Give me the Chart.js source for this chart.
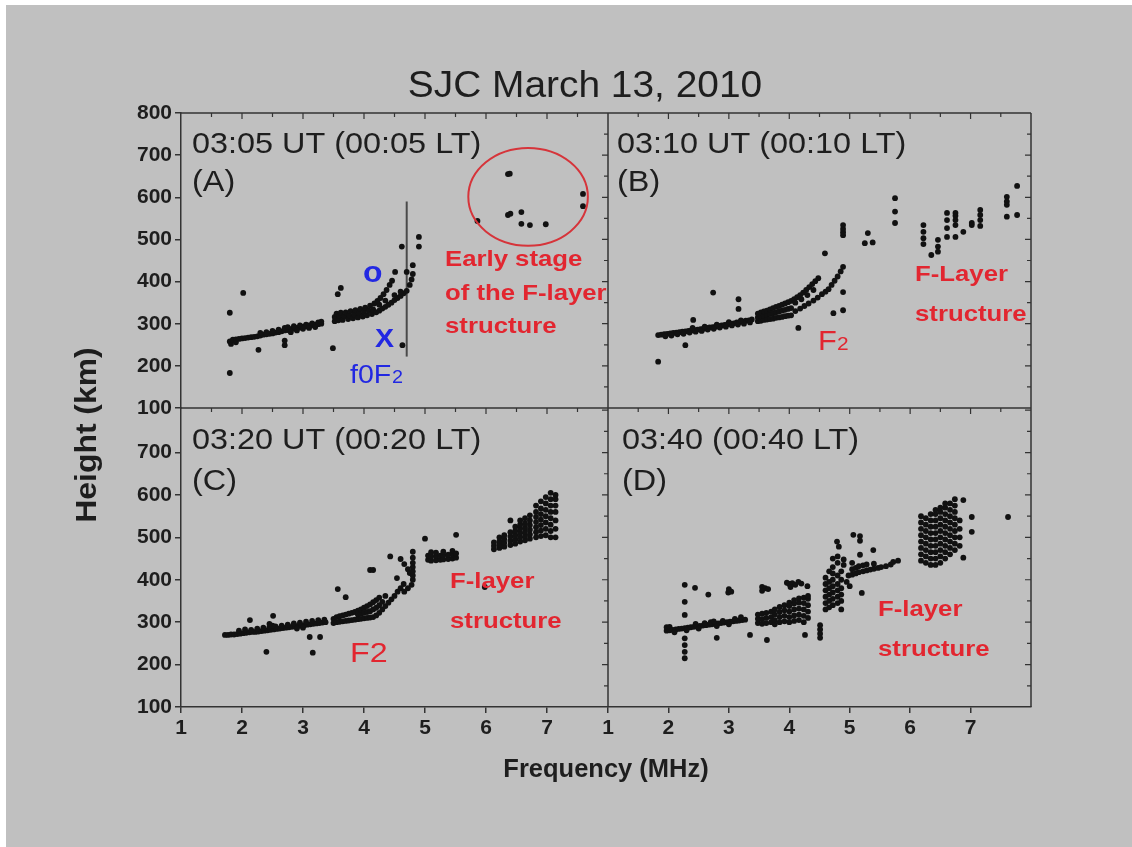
<!DOCTYPE html>
<html>
<head>
<meta charset="utf-8">
<title>SJC March 13, 2010</title>
<script src="https://cdn.jsdelivr.net/npm/chart.js@4.4.1/dist/chart.umd.min.js"></script>
<style>
  html, body { margin: 0; padding: 0; background: #c0c0c0; }
  canvas { display: block; }
</style>
</head>
<body>
<canvas id="ionogram" width="1132" height="847"></canvas>
<script>
// ---- data: virtual height (km) vs frequency (MHz) ----
const freqTicks = [1, 2, 3, 4, 5, 6, 7];
const heightTicksTop = [100, 200, 300, 400, 500, 600, 700, 800];
const heightTicksBottom = [100, 200, 300, 400, 500, 600, 700];

// (A) 03:05 UT
const echoesA = [
  [1.80,258],[1.82,252],[1.85,262],[1.90,263],[1.90,256],[1.95,264],[2.00,265],[2.05,266],[2.10,267],[2.15,268],
  [2.20,269],[2.25,270],[2.30,272],[2.35,274],[2.40,275],[2.45,276],[2.50,277],[2.55,279],[2.60,280],[2.65,282],
  [2.70,284],[2.75,285],[2.80,287],[2.85,288],[2.90,290],[2.95,291],[3.00,293],[3.05,294],[3.10,296],[3.15,297],
  [3.20,298],[3.25,299],[3.30,300],
  [2.30,278],[2.40,280],[2.50,283],[2.60,286],[2.70,290],[2.75,292],[2.85,294],[2.95,296],[3.05,298],[3.15,301],
  [3.25,303],[3.30,305],[2.80,280],[2.90,284],[3.00,288],[3.10,290],[3.20,292],
  [1.80,326],[1.80,183],[2.02,373],[2.27,238],[2.70,249],[2.70,260],[3.49,242],[3.57,370],[3.62,385],
  [3.52,306],[3.52,316],[3.55,324],[3.58,308],[3.60,318],[3.62,326],[3.65,309],[3.68,318],[3.70,327],[3.74,311],
  [3.76,320],[3.78,330],[3.82,313],[3.84,322],[3.86,332],[3.90,315],[3.92,325],[3.94,335],[3.98,317],[4.00,328],
  [4.02,338],[4.05,320],[4.08,331],[4.10,343],[4.13,323],[4.15,334],[4.17,348],
  [4.20,327],[4.25,331],[4.30,336],[4.35,340],[4.40,345],[4.45,350],[4.50,356],[4.55,361],[4.60,366],[4.65,372],
  [4.70,378],[4.25,345],[4.35,355],[4.50,368],[4.60,376],
  [4.22,354],[4.27,361],[4.32,370],[4.37,380],[4.42,392],[4.46,402],[4.51,423],
  [4.62,483],[4.70,423],[4.63,249],[4.75,392],[4.78,405],[4.80,418],[4.80,439],[4.90,506],[4.90,483],
  [5.86,544],[6.36,655],[6.39,656],[6.36,558],[6.40,561],[6.58,565],[6.58,537],[6.72,534],[6.98,536],
  [7.59,608],[7.59,579]
];

// (B) 03:10 UT
const echoesB = [
  [1.83,273],[1.88,274],[1.93,275],[1.98,276],[2.03,277],[2.08,278],[2.13,279],[2.18,280],[2.23,281],[2.28,282],
  [2.33,283],[2.38,284],[2.43,285],[2.48,286],[2.53,287],[2.58,288],[2.63,290],[2.68,291],[2.73,292],[2.78,293],
  [2.83,295],[2.88,296],[2.93,297],[2.98,299],[3.03,300],[3.08,301],[3.13,303],[3.18,304],[3.23,305],[3.28,307],
  [3.33,308],[3.38,310],
  [1.95,270],[2.05,272],[2.15,275],[2.25,276],[2.35,279],[2.45,281],[2.55,283],[2.65,286],[2.75,288],[2.85,291],
  [2.95,293],[3.05,296],[3.15,298],[3.25,300],[3.35,303],[2.40,290],[2.60,293],[2.80,298],[3.00,304],[3.20,308],
  [3.48,306],[3.48,315],[3.48,324],[3.53,307],[3.53,317],[3.53,327],[3.58,309],[3.58,319],[3.58,329],[3.63,310],
  [3.63,321],[3.63,331],[3.68,311],[3.68,323],[3.68,334],[3.73,312],[3.73,325],[3.73,337],[3.78,314],[3.78,327],
  [3.78,340],[3.83,315],[3.83,329],[3.83,342],[3.88,316],[3.88,331],[3.88,345],[3.93,318],[3.93,333],[3.93,348],
  [3.98,319],[3.98,335],[3.98,351],[4.03,320],[4.03,337],[4.03,354],
  [4.08,358],[4.13,363],[4.18,368],[4.23,374],[4.28,380],[4.33,387],[4.38,394],[4.43,401],[4.48,408],
  [4.10,350],[4.20,358],[4.30,368],[4.40,380],
  [4.10,330],[4.18,336],[4.25,342],[4.32,348],[4.40,355],[4.47,362],[4.54,370],[4.60,376],[4.65,382],[4.70,392],
  [4.75,402],[4.80,412],[4.85,424],[4.89,435],
  [1.83,210],[2.28,249],[2.41,309],[2.74,374],[3.16,358],[3.16,335],[4.15,290],[4.59,467],[4.73,325],[4.89,332],
  [4.89,375],[4.89,510],[4.89,517],[4.89,525],[4.89,534],
  [5.30,515],[5.25,491],[5.38,493],[5.75,598],[5.75,566],[5.75,539],
  [6.22,534],[6.22,518],[6.22,503],[6.22,489],[6.35,463],[6.46,499],[6.46,483],[6.46,471],
  [6.61,563],[6.61,546],[6.61,527],[6.61,506],[6.75,563],[6.75,556],[6.75,546],[6.75,534],[6.75,506],
  [6.88,518],[7.02,539],[7.02,534],[7.16,570],[7.16,558],[7.16,546],[7.16,532],
  [7.60,601],[7.60,590],[7.60,582],[7.60,554],[7.77,627],[7.77,558]
];

// (C) 03:20 UT
const echoesC = [
  [1.72,270],[1.77,270],[1.82,271],[1.87,271],[1.92,272],[1.97,273],[2.02,274],[2.07,275],[2.12,276],[2.17,277],
  [2.22,277],[2.27,278],[2.32,279],[2.37,280],[2.42,281],[2.47,282],[2.52,283],[2.57,284],[2.62,285],[2.67,286],
  [2.72,287],[2.77,288],[2.82,289],[2.87,290],[2.92,291],[2.97,292],[3.02,293],[3.07,294],[3.12,295],[3.17,296],
  [3.22,297],[3.27,298],[3.32,299],[3.37,300],
  [1.95,280],[2.05,283],[2.15,282],[2.25,285],[2.35,287],[2.45,289],[2.55,290],[2.65,292],[2.75,294],[2.85,297],
  [2.95,299],[3.05,301],[3.15,303],[3.25,305],[3.35,306],[2.50,292],[2.45,296],[2.90,285],[3.00,287],
  [2.13,305],[2.51,315],[2.40,230],[3.11,265],[3.16,228],[3.28,265],[3.57,378],[3.70,359],
  [3.50,298],[3.50,308],[3.55,300],[3.55,312],[3.60,301],[3.60,314],[3.65,302],[3.65,316],[3.70,303],[3.70,318],
  [3.75,304],[3.75,320],[3.80,305],[3.80,322],[3.85,306],[3.85,324],[3.90,307],[3.90,318],[3.90,327],[3.95,308],
  [3.95,320],[3.95,330],[4.00,309],[4.00,322],[4.00,334],[4.05,310],[4.05,324],[4.05,338],[4.10,311],[4.10,326],
  [4.10,342],[4.15,312],[4.15,330],[4.15,347],[4.20,316],[4.20,334],[4.20,352],[4.25,322],[4.25,340],[4.25,358],
  [4.30,330],[4.30,348],[4.35,338],[4.35,362],[4.40,346],[4.45,354],[4.50,362],[4.55,372],[4.60,380],[4.65,390],
  [4.10,423],[4.15,423],[4.43,455],[4.60,449],[4.66,437],[4.72,425],[4.54,404],[4.66,372],[4.75,416],
  [4.80,400],[4.80,410],[4.80,420],[4.80,430],[4.80,440],[4.80,452],[4.80,466],[4.78,388],[4.72,380],
  [5.00,497],
  [5.05,447],[5.05,457],[5.10,445],[5.10,455],[5.10,465],[5.18,446],[5.18,456],[5.18,464],[5.25,447],[5.25,457],
  [5.30,448],[5.30,458],[5.30,466],[5.38,449],[5.38,459],[5.45,450],[5.45,460],[5.45,468],[5.51,452],[5.51,462],
  [5.51,506],[5.98,383],
  [6.13,472],[6.13,480],[6.13,488],
  [6.22,475],[6.22,483],[6.22,491],[6.22,500],
  [6.30,478],[6.30,487],[6.30,496],[6.30,505],
  [6.40,482],[6.40,492],[6.40,502],[6.40,512],[6.40,540],
  [6.48,485],[6.48,495],[6.48,505],[6.48,515],[6.48,525],
  [6.56,490],[6.56,500],[6.56,510],[6.56,520],[6.56,530],[6.56,540],
  [6.64,493],[6.64,503],[6.64,513],[6.64,523],[6.64,533],[6.64,545],
  [6.72,497],[6.72,507],[6.72,518],[6.72,529],[6.72,540],[6.72,552],
  [6.82,500],[6.82,512],[6.82,524],[6.82,536],[6.82,548],[6.82,560],[6.82,575],
  [6.90,503],[6.90,516],[6.90,529],[6.90,542],[6.90,555],[6.90,568],[6.90,585],
  [6.98,505],[6.98,520],[6.98,535],[6.98,550],[6.98,565],[6.98,580],[6.98,595],
  [7.06,500],[7.06,515],[7.06,530],[7.06,545],[7.06,560],[7.06,575],[7.06,590],[7.06,605],
  [7.14,500],[7.14,520],[7.14,540],[7.14,560],[7.14,575],[7.14,590],[7.14,600]
];

// (D) 03:40 UT
const echoesD = [
  [1.97,280],[1.97,288],[2.02,281],[2.02,289],[2.07,282],[2.12,283],[2.17,284],[2.22,285],[2.27,286],[2.32,287],
  [2.37,288],[2.42,289],[2.47,290],[2.52,291],[2.57,292],[2.62,293],[2.67,294],[2.72,295],[2.77,296],[2.82,297],
  [2.87,298],[2.92,299],[2.97,300],[3.02,301],[3.07,302],[3.12,303],[3.17,304],[3.22,305],[3.27,306],
  [2.10,276],[2.30,281],[2.50,285],[2.60,298],[2.70,300],[2.80,291],[2.90,303],[3.00,295],[3.10,308],[3.20,312],
  [2.45,296],[2.75,302],
  [2.27,388],[2.27,348],[2.27,317],[2.27,262],[2.27,246],[2.27,230],[2.27,215],
  [2.44,381],[2.66,365],[2.99,370],[3.00,378],[3.04,372],[3.55,383],[3.60,380],[3.65,378],[3.55,374],
  [3.96,393],[4.00,390],[4.05,392],[4.10,388],[4.15,395],[4.20,391],[4.30,385],[4.02,383],
  [2.80,263],[3.35,270],[3.63,258],[4.26,270],[4.51,293],[4.51,283],[4.51,273],[4.51,263],
  [3.48,298],[3.48,308],[3.48,318],[3.55,296],[3.55,307],[3.55,320],[3.62,298],[3.62,310],[3.62,322],[3.70,300],
  [3.70,312],[3.70,325],[3.76,295],[3.76,305],[3.76,318],[3.76,330],[3.84,300],[3.84,312],[3.84,324],[3.84,336],
  [3.92,302],[3.92,315],[3.92,328],[3.92,340],[4.00,300],[4.00,312],[4.00,325],[4.00,338],[4.00,346],[4.08,303],
  [4.08,316],[4.08,330],[4.08,344],[4.08,352],[4.16,305],[4.16,318],[4.16,332],[4.16,346],[4.16,356],[4.24,300],
  [4.24,315],[4.24,330],[4.24,345],[4.24,358],[4.31,310],[4.31,325],[4.31,340],[4.31,355],[4.31,362],
  [4.60,330],[4.60,345],[4.60,360],[4.60,375],[4.60,390],[4.60,405],
  [4.66,335],[4.66,350],[4.66,365],[4.66,380],[4.66,395],[4.66,420],
  [4.72,340],[4.72,355],[4.72,370],[4.72,385],[4.72,400],[4.72,415],[4.72,430],[4.72,450],
  [4.80,345],[4.80,360],[4.80,375],[4.80,390],[4.80,410],[4.80,440],[4.80,455],
  [4.86,330],[4.86,350],[4.86,365],[4.86,380],[4.86,400],[4.86,420],[4.90,435],[4.90,448],
  [4.79,490],[4.82,478],[4.95,395],[5.00,385],[4.98,410],
  [5.04,412],[5.04,425],[5.04,440],[5.06,506],[5.10,415],[5.10,428],[5.17,503],[5.17,492],[5.17,459],[5.15,418],
  [5.15,432],[5.20,369],[5.22,420],[5.22,434],[5.28,422],[5.28,436],[5.34,424],[5.39,470],[5.40,426],[5.40,438],
  [5.47,428],[5.52,430],[5.60,432],[5.68,436],[5.72,442],[5.80,445],
  [6.18,445],[6.18,460],[6.18,475],[6.18,490],[6.18,505],[6.18,520],[6.18,535],[6.18,550],
  [6.26,440],[6.26,455],[6.26,470],[6.26,485],[6.26,500],[6.26,515],[6.26,530],[6.26,545],
  [6.34,435],[6.34,450],[6.34,465],[6.34,480],[6.34,495],[6.34,510],[6.34,525],[6.34,540],[6.34,555],
  [6.42,435],[6.42,450],[6.42,465],[6.42,480],[6.42,495],[6.42,510],[6.42,525],[6.42,540],[6.42,555],[6.42,565],
  [6.50,440],[6.50,455],[6.50,470],[6.50,485],[6.50,500],[6.50,515],[6.50,530],[6.50,545],[6.50,560],[6.50,570],
  [6.58,450],[6.58,465],[6.58,480],[6.58,495],[6.58,510],[6.58,525],[6.58,540],[6.58,555],[6.58,570],[6.58,580],
  [6.66,460],[6.66,475],[6.66,490],[6.66,505],[6.66,520],[6.66,535],[6.66,550],[6.66,565],[6.66,580],
  [6.74,470],[6.74,485],[6.74,500],[6.74,515],[6.74,530],[6.74,545],[6.74,560],[6.74,575],[6.74,590],
  [6.82,480],[6.82,500],[6.82,520],[6.82,540],
  [6.88,452],[6.88,588],[7.02,548],[7.02,513],[7.62,548]
];

// foF2 marker in panel A
const foF2Freq = [4.7, 4.7];
const foF2Span = [222, 590];

// ---- styling ----
const FONT = '"Liberation Sans", Arial, Helvetica, sans-serif';
const INK = '#1e1e1e';
const RED = 'rgb(226,38,48)';
const BLUE = 'rgb(34,40,226)';

const toXY = pts => pts.map(([x, y]) => ({ x, y }));

function echoSet(pts, xID, yID) {
  return {
    data: toXY(pts),
    xAxisID: xID,
    yAxisID: yID,
    pointRadius: 2.9,
    pointBorderWidth: 0,
    pointBackgroundColor: '#111',
    showLine: false
  };
}

function freqAxis(weight, stackWeight) {
  return {
    type: 'linear', position: 'bottom', stack: 'freq', stackWeight, weight,
    min: 1, max: 8,
    afterBuildTicks: s => { s.ticks = freqTicks.map(v => ({ value: v })); },
    afterFit: s => { s.height = 40; },
    ticks: { autoSkip: false, maxRotation: 0, padding: 3, color: INK,
             font: { family: FONT, size: 21, weight: 'bold' } },
    grid: { drawOnChartArea: false, drawTicks: true, tickLength: 6, color: '#333', lineWidth: 1.5 },
    border: { color: '#333', width: 1.5 }
  };
}

function heightAxis(weight, stackWeight, max, tickVals) {
  return {
    type: 'linear', position: 'left', stack: 'height', stackWeight, weight,
    min: 100, max,
    afterBuildTicks: s => { s.ticks = tickVals.map(v => ({ value: v })); },
    afterFit: s => { s.width = 60; },
    ticks: { autoSkip: false, padding: 3, color: INK,
             font: { family: FONT, size: 21, weight: 'bold' } },
    grid: { drawOnChartArea: false, drawTicks: true, tickLength: 6, color: '#333', lineWidth: 1.5 },
    border: { color: '#333', width: 1.5 }
  };
}

function txt(ctx, str, x, y, font, color, sx, align) {
  ctx.save();
  ctx.font = font;
  ctx.fillStyle = color;
  ctx.textBaseline = 'alphabetic';
  ctx.textAlign = align || 'left';
  ctx.translate(x, y);
  ctx.scale(sx || 1, 1);
  ctx.fillText(str, 0, 0);
  ctx.restore();
}

// frame, inner ticks, panel captions and annotations
const panelDecor = {
  id: 'panelDecor',
  beforeDraw(chart) {
    const ctx = chart.ctx;
    ctx.save();
    ctx.fillStyle = '#c0c0c0';
    ctx.fillRect(0, 0, chart.width, chart.height);
    ctx.fillStyle = '#ffffff';
    ctx.fillRect(0, 0, chart.width, 5);
    ctx.fillRect(0, 0, 6, chart.height);
    ctx.restore();
  },
  afterDatasetsDraw(chart) {
    const ctx = chart.ctx;
    const s = chart.scales;
    const panels = [[s.xL, s.yT], [s.xR, s.yT], [s.xL, s.yB], [s.xR, s.yB]];

    ctx.save();
    ctx.strokeStyle = '#333';
    ctx.lineWidth = 1.5;
    // frame lines not drawn by the axes themselves
    ctx.beginPath();
    ctx.moveTo(s.xL.left, s.yT.top); ctx.lineTo(s.xR.right, s.yT.top);
    ctx.moveTo(s.xR.right, s.yT.top); ctx.lineTo(s.xR.right, s.yB.bottom);
    ctx.moveTo(s.xL.left, s.yT.bottom); ctx.lineTo(s.xR.right, s.yT.bottom);
    ctx.moveTo(s.xL.right, s.yT.top); ctx.lineTo(s.xL.right, s.yB.bottom);
    ctx.stroke();

    // inward ticks on top and right edges of each panel
    ctx.lineWidth = 1.2;
    ctx.beginPath();
    panels.forEach(([xs, ys]) => {
      for (let f = 1.5; f < 8; f += 0.5) {
        const px = xs.getPixelForValue(f);
        const len = Number.isInteger(f) ? 6 : 4;
        ctx.moveTo(px, ys.top); ctx.lineTo(px, ys.top + len);
      }
      for (let h = 150; h < ys.max; h += 50) {
        const py = ys.getPixelForValue(h);
        const len = h % 100 === 0 ? 6 : 4;
        ctx.moveTo(xs.right, py); ctx.lineTo(xs.right - len, py);
      }
    });
    ctx.stroke();
    ctx.restore();

    // captions
    const cap = '30px ' + FONT;
    const tags = [
      ['03:05 UT (00:05 LT)', '(A)', 11, 40, 78],
      ['03:10 UT (00:10 LT)', '(B)', 9, 40, 78],
      ['03:20 UT (00:20 LT)', '(C)', 11, 41, 82],
      ['03:40 (00:40 LT)', '(D)', 14, 41, 82]
    ];
    tags.forEach(([time, tag, dx, dy1, dy2], i) => {
      const [xs, ys] = panels[i];
      txt(ctx, time, xs.left + dx, ys.top + dy1, cap, INK, 1.08);
      txt(ctx, tag, xs.left + dx, ys.top + dy2, cap, INK, 1.08);
    });

    const redBold = 'bold 22px ' + FONT;
    const A = panels[0], B = panels[1], C = panels[2], D = panels[3];
    // panel A
    txt(ctx, 'Early stage', A[0].left + 264, A[1].top + 153, redBold, RED, 1.17);
    txt(ctx, 'of the F-layer', A[0].left + 264, A[1].top + 187, redBold, RED, 1.17);
    txt(ctx, 'structure', A[0].left + 264, A[1].top + 220, redBold, RED, 1.17);
    txt(ctx, 'o', A[0].left + 182, A[1].top + 169, 'bold 29px ' + FONT, BLUE, 1.1);
    txt(ctx, 'X', A[0].left + 194, A[1].top + 234, 'bold 26px ' + FONT, BLUE, 1.1);
    txt(ctx, 'f0F', A[0].left + 169, A[1].top + 270, '26px ' + FONT, BLUE, 1.1);
    txt(ctx, '2', A[0].left + 211, A[1].top + 270, '18px ' + FONT, BLUE, 1.1);
    // circled early F-layer echoes
    const cx = A[0].getPixelForValue(6.69), cy = A[1].getPixelForValue(601);
    const rx = A[0].getPixelForValue(6.69 + 0.98) - cx;
    const ry = cy - A[1].getPixelForValue(601 + 116);
    ctx.save();
    ctx.strokeStyle = 'rgb(214,52,58)';
    ctx.lineWidth = 2;
    ctx.beginPath();
    ctx.ellipse(cx, cy, rx, ry, 0, 0, Math.PI * 2);
    ctx.stroke();
    ctx.restore();
    // panel B
    txt(ctx, 'F', B[0].left + 210, B[1].top + 237, '28px ' + FONT, RED, 1.1);
    txt(ctx, '2', B[0].left + 229, B[1].top + 237, '19px ' + FONT, RED, 1.1);
    txt(ctx, 'F-Layer', B[0].left + 307, B[1].top + 168, redBold, RED, 1.17);
    txt(ctx, 'structure', B[0].left + 307, B[1].top + 208, redBold, RED, 1.17);
    // panel C
    txt(ctx, 'F2', C[0].left + 169, C[1].top + 254, '28px ' + FONT, RED, 1.15);
    txt(ctx, 'F-layer', C[0].left + 269, C[1].top + 180, redBold, RED, 1.17);
    txt(ctx, 'structure', C[0].left + 269, C[1].top + 220, redBold, RED, 1.17);
    // panel D
    txt(ctx, 'F-layer', D[0].left + 270, D[1].top + 208, redBold, RED, 1.17);
    txt(ctx, 'structure', D[0].left + 270, D[1].top + 248, redBold, RED, 1.17);

    // figure title and axis titles
    txt(ctx, 'SJC March 13, 2010', 585, 97, '36px ' + FONT, INK, 1.08, 'center');
    txt(ctx, 'Frequency (MHz)', (s.xL.left + s.xR.right) / 2, 777, 'bold 26px ' + FONT, INK, 0.98, 'center');
    ctx.save();
    ctx.translate(96, 435);
    ctx.rotate(-Math.PI / 2);
    txt(ctx, 'Height (km)', 0, 0, 'bold 29px ' + FONT, INK, 1.1, 'center');
    ctx.restore();
  }
};

const chart = new Chart(document.getElementById('ionogram'), {
  type: 'scatter',
  data: {
    datasets: [
      echoSet(echoesA, 'xL', 'yT'),
      echoSet(echoesB, 'xR', 'yT'),
      echoSet(echoesC, 'xL', 'yB'),
      echoSet(echoesD, 'xR', 'yB'),
      {
        type: 'line',
        data: foF2Freq.map((f, i) => ({ x: f, y: foF2Span[i] })),
        xAxisID: 'xL', yAxisID: 'yT',
        borderColor: '#4a4a4a', borderWidth: 2, pointRadius: 0
      }
    ]
  },
  options: {
    responsive: false,
    animation: false,
    devicePixelRatio: 1,
    events: [],
    layout: { padding: { left: 121, top: 113, right: 101, bottom: 100 } },
    plugins: { legend: { display: false }, tooltip: { enabled: false }, title: { display: false } },
    scales: {
      xL: freqAxis(1, 427),
      xR: freqAxis(2, 423),
      yT: heightAxis(2, 295, 800, heightTicksTop),
      yB: heightAxis(1, 299, 805, heightTicksBottom)
    }
  },
  plugins: [panelDecor]
});
</script>
</body>
</html>
